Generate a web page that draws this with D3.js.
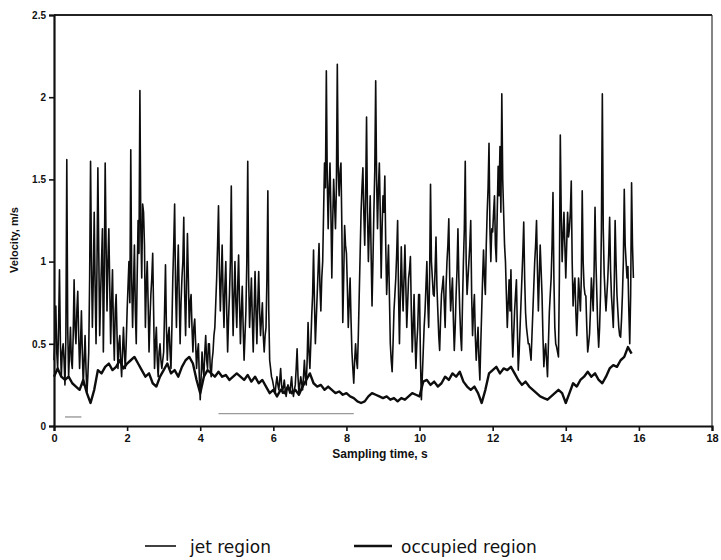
<!DOCTYPE html>
<html>
<head>
<meta charset="utf-8">
<script src="https://cdn.jsdelivr.net/npm/d3@7"></script>
<style>
  html, body { margin: 0; padding: 0; background: #fff; }
  svg { display: block; }
  text { font-family: "Liberation Sans", Arial, sans-serif; fill: #111; }
</style>
</head>
<body>
<svg id="chart" width="721" height="560"></svg>
<script>
// ---------------- data ----------------
const xTicks = [0, 2, 4, 6, 8, 10, 12, 14, 16, 18];
const yTicks = [0, 0.5, 1, 1.5, 2, 2.5];
const yTickLabels = ["0", "0.5", "1", "1.5", "2", "2.5"];
const seriesNames = ["jet region", "occupied region"];

// jet region velocity (m/s), sampled every 0.025 s from t = 0 (one row per second)
const jetStep = 0.025;
const jetValues = [
  0.40, 0.55, 0.73, 0.45, 0.35, 0.60, 0.95, 0.50, 0.30, 0.45, 0.50, 0.40, 0.25, 0.55, 1.62, 0.60, 0.30, 0.45, 0.60, 0.40,
  0.35, 0.55, 0.89, 0.60, 0.50, 0.70, 0.82, 0.55, 0.35, 0.50, 0.70, 0.45, 0.25, 0.40, 0.55, 0.35, 0.20, 0.30, 0.45, 0.90,
  1.61, 1.00, 0.60, 0.90, 1.30, 0.85, 0.50, 0.95, 1.57, 1.05, 0.55, 0.80, 1.00, 1.20, 0.45, 0.90, 1.60, 1.10, 0.70, 1.00,
  1.20, 0.85, 0.50, 0.75, 0.95, 0.60, 0.40, 0.70, 0.80, 0.55, 0.35, 0.50, 0.55, 0.40, 0.30, 0.45, 0.60, 0.45, 0.35, 0.50,
  0.70, 0.85, 1.00, 0.75, 1.68, 0.90, 0.60, 0.85, 1.10, 0.70, 0.50, 0.90, 1.25, 1.05, 2.04, 1.20, 0.90, 1.35, 1.30, 1.10,
  0.60, 0.85, 1.00, 0.75, 0.45, 0.65, 0.80, 0.90, 1.05, 0.70, 0.35, 0.50, 0.60, 0.40, 0.30, 0.45, 0.50, 0.40, 0.35, 0.40,
  0.45, 0.70, 0.98, 0.60, 0.40, 0.55, 0.60, 0.45, 0.35, 0.60, 0.90, 1.10, 1.35, 0.85, 0.60, 0.90, 1.10, 0.80, 0.50, 0.75,
  0.90, 1.00, 1.27, 0.80, 0.55, 0.85, 1.17, 0.90, 0.60, 0.75, 0.80, 0.60, 0.45, 0.60, 0.65, 0.50, 0.35, 0.45, 0.50, 0.30,
  0.16, 0.30, 0.45, 0.35, 0.30, 0.45, 0.55, 0.40, 0.35, 0.50, 0.50, 0.35, 0.30, 0.40, 0.45, 0.55, 0.60, 0.75, 0.90, 1.10,
  1.34, 0.95, 0.70, 0.90, 1.10, 0.80, 0.60, 0.85, 1.00, 0.70, 0.45, 0.65, 0.80, 1.00, 1.46, 0.85, 0.55, 0.80, 1.00, 0.75,
  0.60, 0.85, 1.04, 0.75, 0.50, 0.70, 0.85, 0.60, 0.40, 0.55, 0.70, 1.00, 1.61, 0.90, 0.60, 0.75, 0.90, 0.65, 0.45, 0.70,
  0.94, 0.70, 0.50, 0.75, 0.94, 0.70, 0.55, 0.65, 0.75, 0.55, 0.45, 0.55, 0.60, 0.90, 1.43, 0.70, 0.40, 0.35, 0.30, 0.28,
  0.25, 0.22, 0.20, 0.26, 0.30, 0.25, 0.22, 0.28, 0.35, 0.25, 0.20, 0.24, 0.28, 0.22, 0.18, 0.22, 0.25, 0.22, 0.20, 0.25,
  0.30, 0.22, 0.18, 0.22, 0.25, 0.35, 0.47, 0.30, 0.20, 0.25, 0.30, 0.26, 0.22, 0.30, 0.40, 0.30, 0.25, 0.40, 0.63, 0.45,
  0.35, 0.50, 0.67, 0.80, 1.07, 0.75, 0.50, 0.65, 0.80, 0.95, 1.11, 0.85, 0.70, 0.90, 1.00, 1.30, 1.60, 1.45, 2.16, 1.50,
  1.20, 1.45, 1.60, 1.30, 0.90, 1.25, 1.50, 1.35, 1.20, 1.45, 2.20, 1.55, 1.40, 1.55, 1.60, 1.20, 0.63, 0.90, 1.22, 1.10,
  1.05, 0.85, 0.60, 0.75, 0.90, 0.65, 0.45, 0.35, 0.26, 0.40, 0.50, 0.40, 0.35, 0.55, 0.80, 1.05, 1.30, 1.45, 1.57, 1.30,
  1.10, 1.40, 1.88, 1.30, 1.00, 1.20, 1.40, 1.05, 0.73, 1.00, 1.30, 1.55, 2.10, 1.50, 1.20, 1.45, 1.60, 1.30, 0.90, 1.20,
  1.40, 1.30, 1.52, 1.10, 0.80, 0.95, 1.10, 0.80, 0.50, 0.40, 0.33, 0.50, 0.70, 0.80, 0.90, 1.05, 1.25, 0.80, 0.50, 0.80,
  1.09, 0.85, 0.70, 0.90, 1.10, 0.85, 0.60, 0.75, 0.90, 0.95, 1.03, 0.70, 0.45, 0.60, 0.80, 0.55, 0.35, 0.50, 0.60, 0.80,
  0.80, 0.40, 0.16, 0.30, 0.45, 0.60, 0.70, 0.85, 1.00, 0.75, 0.60, 0.90, 1.47, 1.00, 0.90, 0.80, 0.79, 0.95, 1.15, 0.85,
  0.70, 0.55, 0.46, 0.65, 0.80, 0.85, 0.91, 0.75, 0.60, 0.85, 1.00, 1.10, 1.26, 0.90, 0.70, 0.80, 0.90, 0.65, 0.46, 0.60,
  0.80, 0.95, 1.20, 0.90, 0.70, 0.55, 0.46, 0.75, 1.00, 1.20, 1.61, 1.00, 0.80, 0.90, 1.00, 1.10, 1.25, 0.80, 0.55, 0.70,
  0.80, 0.55, 0.40, 0.50, 0.60, 0.40, 0.28, 0.50, 0.70, 0.90, 1.07, 0.90, 0.80, 1.10, 1.30, 1.45, 1.72, 1.20, 1.00, 1.20,
  1.18, 1.30, 1.40, 1.10, 1.00, 1.30, 1.58, 1.40, 1.70, 1.30, 2.02, 1.50, 1.30, 1.10, 1.00, 0.80, 0.60, 0.75, 0.89, 0.70,
  0.95, 0.60, 0.42, 0.55, 0.70, 0.80, 0.89, 0.60, 0.34, 0.45, 0.60, 0.75, 0.90, 1.05, 1.24, 0.90, 0.69, 0.60, 0.55, 0.50,
  0.50, 0.45, 0.40, 0.55, 0.70, 0.85, 1.00, 1.10, 1.25, 0.95, 0.70, 0.90, 1.10, 0.95, 0.80, 0.55, 0.36, 0.45, 0.50, 0.40,
  0.30, 0.50, 0.69, 0.80, 0.90, 1.10, 1.42, 0.90, 0.60, 0.50, 0.48, 0.45, 0.42, 0.90, 1.77, 1.30, 1.00, 1.15, 1.30, 1.10,
  0.90, 1.10, 1.30, 1.15, 1.20, 1.30, 1.49, 1.00, 0.73, 0.85, 0.90, 0.70, 0.55, 0.70, 0.90, 0.80, 0.70, 0.90, 1.43, 1.00,
  0.85, 0.80, 0.79, 0.60, 0.45, 0.50, 0.56, 0.70, 0.90, 0.80, 0.70, 0.95, 1.33, 1.00, 0.80, 0.60, 0.48, 0.60, 0.80, 1.20,
  2.02, 1.20, 0.93, 0.80, 0.70, 0.80, 0.90, 1.05, 1.27, 0.95, 0.79, 0.70, 0.60, 0.85, 1.25, 1.00, 0.80, 0.70, 0.60, 0.55,
  0.54, 0.65, 0.80, 1.00, 1.44, 1.10, 1.00, 0.90, 0.97, 0.70, 0.50, 0.80, 1.48, 1.10, 0.90
];

// occupied region velocity (m/s), sampled every 0.1 s from t = 0
const occStep = 0.1;
const occValues = [
  0.30, 0.35, 0.30, 0.28, 0.30, 0.26, 0.24, 0.22, 0.28, 0.20,
  0.14, 0.22, 0.34, 0.32, 0.36, 0.38, 0.34, 0.36, 0.40, 0.35,
  0.38, 0.40, 0.42, 0.38, 0.34, 0.30, 0.32, 0.26, 0.24, 0.30,
  0.34, 0.38, 0.32, 0.34, 0.30, 0.36, 0.40, 0.42, 0.38, 0.28,
  0.20, 0.30, 0.34, 0.32, 0.30, 0.33, 0.30, 0.31, 0.28, 0.30,
  0.32, 0.30, 0.28, 0.31, 0.27, 0.30, 0.26, 0.28, 0.24, 0.20,
  0.22, 0.18, 0.22, 0.20, 0.24, 0.20, 0.22, 0.19, 0.24, 0.28,
  0.32, 0.26, 0.24, 0.25, 0.22, 0.24, 0.22, 0.20, 0.21, 0.19,
  0.20, 0.18, 0.17, 0.15, 0.14, 0.15, 0.18, 0.20, 0.19, 0.18,
  0.17, 0.18, 0.16, 0.17, 0.15, 0.17, 0.16, 0.18, 0.20, 0.19,
  0.18, 0.27, 0.28, 0.25, 0.27, 0.24, 0.26, 0.30, 0.28, 0.32,
  0.30, 0.33, 0.27, 0.24, 0.22, 0.24, 0.20, 0.14, 0.22, 0.32,
  0.34, 0.36, 0.32, 0.35, 0.34, 0.36, 0.32, 0.28, 0.25, 0.27,
  0.24, 0.22, 0.20, 0.18, 0.17, 0.16, 0.18, 0.20, 0.22, 0.20,
  0.14, 0.20, 0.26, 0.24, 0.28, 0.30, 0.33, 0.30, 0.32, 0.28,
  0.26, 0.30, 0.35, 0.37, 0.36, 0.40, 0.42, 0.48, 0.44
];

// faint scan marks near the bottom of the plot: [start s, end s, velocity]
const scanMarks = [[4.5, 8.2, 0.075], [0.3, 0.75, 0.055]];

// ---------------- drawing ----------------
const svg = d3.select("#chart");
const plotL = 54, plotR = 712, plotT = 15, plotB = 426;

const x = d3.scaleLinear().domain([0, 18]).range([plotL, plotR]);
const y = d3.scaleLinear().domain([0, 2.5]).range([plotB, plotT]);

const jetData = jetValues.map((v, i) => ({ t: i * jetStep, v }));
const occData = occValues.map((v, i) => ({ t: i * occStep, v }));

const line = d3.line().x(d => x(d.t)).y(d => y(d.v));

// scan marks
svg.append("g").selectAll("line").data(scanMarks).join("line")
  .attr("x1", d => x(d[0])).attr("x2", d => x(d[1]))
  .attr("y1", d => y(d[2])).attr("y2", d => y(d[2]))
  .attr("stroke", "#9a9a9a").attr("stroke-width", 1.4);

// series
svg.append("path").datum(occData).attr("d", line)
  .attr("fill", "none").attr("stroke", "#0d0d0d").attr("stroke-width", 2.4)
  .attr("stroke-linejoin", "round");
svg.append("path").datum(jetData).attr("d", line)
  .attr("fill", "none").attr("stroke", "#0d0d0d").attr("stroke-width", 1.6)
  .attr("stroke-linejoin", "round");

// frame (top and right)
svg.append("line").attr("x1", plotL).attr("x2", plotR).attr("y1", plotT).attr("y2", plotT)
  .attr("stroke", "#222").attr("stroke-width", 2);
svg.append("line").attr("x1", plotR).attr("x2", plotR).attr("y1", plotT).attr("y2", plotB)
  .attr("stroke", "#333").attr("stroke-width", 1.2);

// axes
const xAxis = d3.axisBottom(x).tickValues(xTicks).tickSize(5).tickPadding(3).tickFormat(d3.format("d"));
const gx = svg.append("g").attr("transform", `translate(0,${plotB})`).call(xAxis);
gx.select(".domain").attr("stroke", "#111").attr("stroke-width", 2.2);
gx.selectAll(".tick line").attr("stroke", "#111").attr("stroke-width", 1.6);
gx.selectAll("text").attr("font-size", 11).attr("font-weight", "bold").attr("fill", "#111");

const yAxis = d3.axisLeft(y).tickValues(yTicks).tickSize(5).tickPadding(3)
  .tickFormat((d, i) => yTickLabels[i]);
const gy = svg.append("g").attr("transform", `translate(${plotL},0)`).call(yAxis);
gy.select(".domain").attr("stroke", "#111").attr("stroke-width", 2.2);
gy.selectAll(".tick line").attr("stroke", "#111").attr("stroke-width", 1.6);
gy.selectAll("text").attr("font-size", 10).attr("font-weight", "bold").attr("fill", "#111");

// axis titles
svg.append("text").attr("x", 380).attr("y", 458).attr("text-anchor", "middle")
  .attr("font-size", 12).attr("font-weight", "bold").text("Sampling time, s");
svg.append("text").attr("transform", "translate(18,240) rotate(-90)").attr("text-anchor", "middle")
  .attr("font-size", 11).attr("font-weight", "bold").text("Velocity, m/s");

// legend
const legendItems = [
  { name: seriesNames[0], x0: 145, x1: 176, tx: 190, w: 1.6 },
  { name: seriesNames[1], x0: 354, x1: 392, tx: 401, w: 2.4 }
];
const lg = svg.append("g");
legendItems.forEach(it => {
  lg.append("line").attr("x1", it.x0).attr("x2", it.x1).attr("y1", 546).attr("y2", 546)
    .attr("stroke", "#111").attr("stroke-width", it.w);
  lg.append("text").attr("x", it.tx).attr("y", 553).attr("font-size", 17)
    .style("font-family", "'DejaVu Sans', sans-serif").text(it.name);
});
</script>
</body>
</html>
